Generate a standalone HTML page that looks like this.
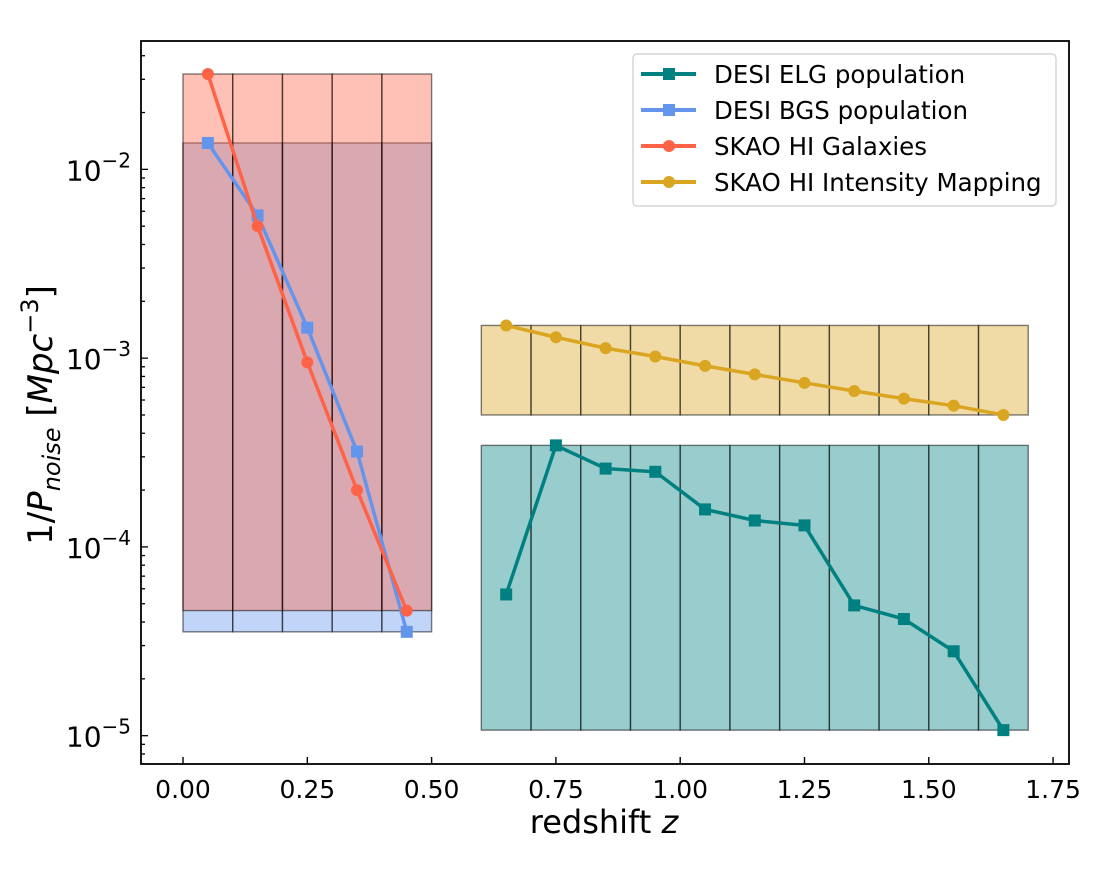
<!DOCTYPE html>
<html><head><meta charset="utf-8"><style>
body{margin:0;background:#fff}
text{font-family:"DejaVu Sans","Liberation Sans",sans-serif;fill:#000}
</style></head><body>
<svg id="chart" width="1120" height="888" xmlns="http://www.w3.org/2000/svg"></svg>
<script>
const xTicks=[0,0.25,0.5,0.75,1.0,1.25,1.5,1.75];
const xTickLabels=["0.00","0.25","0.50","0.75","1.00","1.25","1.50","1.75"];
const yDecades=[-5,-4,-3,-2];
const lowZ=[0.05,0.15,0.25,0.35,0.45];
const highZ=[0.65,0.75,0.85,0.95,1.05,1.15,1.25,1.35,1.45,1.55,1.65];
const skaoGal=[0.032,0.0050,0.00095,0.00020,0.000046];
const bgs=[0.0138,0.0057,0.00145,0.00032,0.0000355];
const skaoIM=[0.00149,0.00129,0.00113,0.00102,0.00091,0.00082,0.00074,0.00067,0.00061,0.00056,0.00050];
const elg=[0.000056,0.000345,0.00026,0.00025,0.000158,0.000138,0.00013,0.000049,0.0000415,0.000028,0.0000107];

const L=141,R=1069,T=41,B=764;
const xMin=-0.0845,xMax=1.782,lMin=-5.15,lMax=-1.32;
const X=v=>L+(v-xMin)/(xMax-xMin)*(R-L);
const Y=v=>B-(Math.log10(v)-lMin)/(lMax-lMin)*(B-T);
const svg=document.getElementById('chart');
const NS='http://www.w3.org/2000/svg';
function mk(tag,attrs,parent){const e=document.createElementNS(NS,tag);for(const k in attrs)e.setAttribute(k,attrs[k]);(parent||svg).appendChild(e);return e;}

function boxes(zs,vals,fill,name){
  const g=mk('g',{});
  
  
  const lo=Math.min(...vals),hi=Math.max(...vals);
  zs.forEach(z=>{
    const r=mk('rect',{x:X(z-0.05),y:Y(hi),width:X(z+0.05)-X(z-0.05),height:Y(lo)-Y(hi),fill:fill,'fill-opacity':0.4,stroke:'#000','stroke-opacity':0.5,'stroke-width':1.4},g);
    
    
  });
}
boxes(lowZ,bgs,'#6495ED','bgs-bins');
boxes(lowZ,skaoGal,'#FF6347','skao-gal-bins');
boxes(highZ,skaoIM,'#DAA520','skao-im-bins');
boxes(highZ,elg,'#008080','elg-bins');

function series(zs,vals,color,marker,name){
  const g=mk('g',{});
  
  
  mk('polyline',{points:zs.map((z,i)=>X(z)+','+Y(vals[i])).join(' '),fill:'none',stroke:color,'stroke-width':3.5},g);
  zs.forEach((z,i)=>{
    let m;
    if(marker==='s')m=mk('rect',{x:X(z)-6,y:Y(vals[i])-6,width:12,height:12,fill:color},g);
    else m=mk('circle',{cx:X(z),cy:Y(vals[i]),r:6,fill:color},g);
    
    
  });
}
series(highZ,elg,'#008080','s','elg-series');
series(lowZ,bgs,'#6495ED','s','bgs-series');
series(lowZ,skaoGal,'#FF6347','o','skao-gal-series');
series(highZ,skaoIM,'#DAA520','o','skao-im-series');

const fr=mk('rect',{x:L,y:T,width:R-L,height:B-T,fill:'none',stroke:'#000','stroke-width':1.8});



xTicks.forEach((t,i)=>{
  mk('line',{x1:X(t),x2:X(t),y1:B,y2:B-7,stroke:'#000','stroke-width':1.4});
  const tx=mk('text',{x:X(t),y:B+34,'text-anchor':'middle','font-size':25});
  tx.textContent=xTickLabels[i];
  
  
});
for(let d=-6;d<=-1;d++){
  for(let m=1;m<10;m++){
    const v=m*Math.pow(10,d);const lv=Math.log10(v);
    if(lv<lMin||lv>lMax)continue;
    mk('line',{x1:L,x2:L+(m===1?7:4),y1:Y(v),y2:Y(v),stroke:'#000','stroke-width':1.3});
  }
}
yDecades.forEach(d=>{
  const tx=mk('text',{x:L-10,y:Y(Math.pow(10,d))+11,'text-anchor':'end','font-size':28});
  tx.innerHTML='10<tspan dy="-13" font-size="20">−'+(-d)+'</tspan>';
  
  
});
const xt=mk('text',{x:604,y:833,'text-anchor':'middle','font-size':32});
xt.innerHTML='redshift <tspan font-style="italic">z</tspan>';


const yt=mk('text',{x:0,y:0,'text-anchor':'middle','font-size':34,transform:'translate(52,415) rotate(-90)'});
yt.innerHTML='1/<tspan font-style="italic">P</tspan><tspan font-style="italic" font-size="24" dy="8">noise</tspan><tspan dy="-8"> [</tspan><tspan font-style="italic">Mpc</tspan><tspan font-size="24" dy="-14">−3</tspan><tspan dy="14">]</tspan>';



const lg=mk('g',{});


mk('rect',{x:633,y:54,width:423,height:152,rx:4,fill:'#fff','fill-opacity':0.85,stroke:'#ccc','stroke-width':1.2},lg);
const legNames=['DESI ELG population','DESI BGS population','SKAO HI Galaxies','SKAO HI Intensity Mapping'];
const legCols=['#008080','#6495ED','#FF6347','#DAA520'];
const legMk=['s','s','o','o'];
legNames.forEach((n,i)=>{
  const y=74+i*36;
  const e=mk('g',{},lg);
  
  
  mk('line',{x1:641,x2:696,y1:y,y2:y,stroke:legCols[i],'stroke-width':4},e);
  if(legMk[i]==='s')mk('rect',{x:663,y:y-6,width:12,height:12,fill:legCols[i]},e);
  else mk('circle',{cx:669,cy:y,r:6,fill:legCols[i]},e);
  const t=mk('text',{x:714,y:y+9,'font-size':24.5},e);
  t.textContent=n;
});
</script>
</body></html>
